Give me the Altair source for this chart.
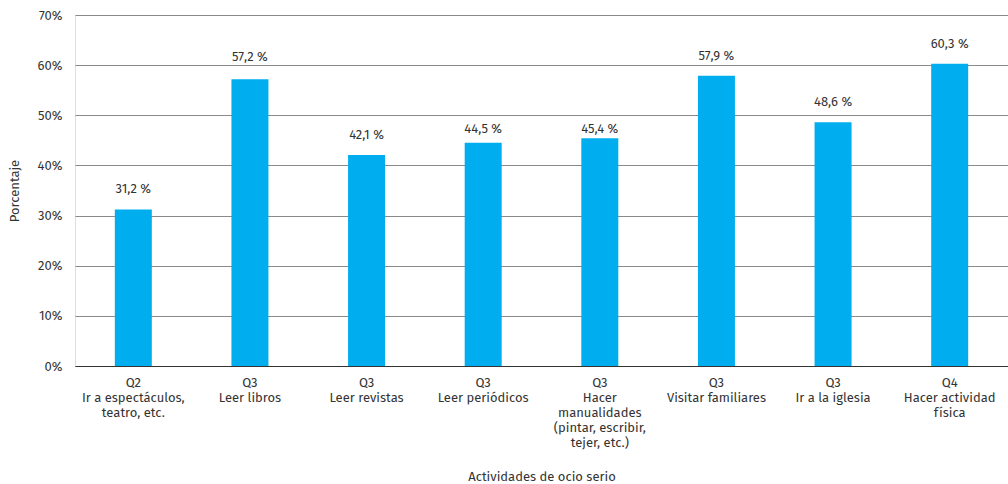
import altair as alt
import pandas as pd

# Categories (line breaks marked with "|") and percentages per activity
categorias = [
    "Q2|Ir a espectáculos,|teatro, etc.",
    "Q3|Leer libros",
    "Q3|Leer revistas",
    "Q3|Leer periódicos",
    "Q3|Hacer|manualidades|(pintar, escribir,|tejer, etc.)",
    "Q3|Visitar familiares",
    "Q3|Ir a la iglesia",
    "Q4|Hacer actividad|física",
]
porcentajes = [31.2, 57.2, 42.1, 44.5, 45.4, 57.9, 48.6, 60.3]

df = pd.DataFrame({"cat": categorias, "valor": porcentajes})

FONT = "Fira Sans, Noto Sans, sans-serif"
TEXT = "#333333"
BAR = "#00AEEF"
FS = 13

x = alt.X(
    "cat:N",
    sort=categorias,
    title="Actividades de ocio serio",
    axis=alt.Axis(
        labelExpr="split(datum.label, '|')",
        labelAngle=0,
        labelAlign="center",
        labelBaseline="top",
        labelPadding=10,
        labelLineHeight=15,
        labelFontSize=FS,
        labelColor=TEXT,
        labelFont=FONT,
        ticks=False,
        domain=True,
        domainColor="#333333",
        domainWidth=1.2,
        grid=False,
        titleFont=FONT,
        titleFontSize=FS,
        titleFontWeight="normal",
        titleColor=TEXT,
        titleY=110,
        titleBaseline="middle",
    ),
    scale=alt.Scale(paddingInner=0, paddingOuter=0),
)

y = alt.Y(
    "valor:Q",
    title="Porcentaje",
    scale=alt.Scale(domain=[0, 70]),
    axis=alt.Axis(
        values=[0, 10, 20, 30, 40, 50, 60, 70],
        labelExpr="datum.value + '%'",
        labelFontSize=FS,
        labelColor=TEXT,
        labelFont=FONT,
        labelPadding=13,
        ticks=False,
        domain=False,
        grid=True,
        gridColor="#8a8a8a",
        gridWidth=1.2,
        titleFont=FONT,
        titleFontSize=FS,
        titleFontWeight="normal",
        titleColor=TEXT,
        titleX=-61,
        titleY=175.5,
        titleAngle=-90,
        titleBaseline="middle",
        titleAlign="center",
    ),
)

base = alt.Chart(df)

bars = base.mark_bar(color=BAR, size=37).encode(x=x, y=y)

# Value labels sit a little above each bar; when one would cross a gridline,
# it is tucked just under that line (or lifted just over it).
labels = (
    base.transform_calculate(
        etiqueta="replace(format(datum.valor, '.1f'), '.', ',') + ' %'",
        pos0="datum.valor + 4",
        g="ceil(datum.valor / 10) * 10",
    )
    .transform_calculate(
        choca="datum.pos0 + 1.3 > datum.g - 0.3 && datum.pos0 - 1.3 < datum.g + 0.3"
    )
    .transform_calculate(
        lab="datum.choca ? (datum.g - 4 > datum.valor + 0.5 ? datum.g - 2.7 : datum.g + 1.6) : datum.pos0"
    )
    .mark_text(fontSize=FS, font=FONT, color=TEXT, baseline="middle")
    .encode(
        x=alt.X("cat:N", sort=categorias),
        y=alt.Y("lab:Q"),
        text="etiqueta:N",
    )
)

chart = (
    alt.layer(bars, labels)
    .properties(
        width=933,
        height=351,
        autosize=alt.AutoSizeParams(type="none"),
        padding={"left": 75, "top": 15, "right": 0, "bottom": 118},
    )
    .configure_view(stroke=None)
    .configure(background="white")
)

chart.save("out.html", embed_options={"renderer": "svg", "actions": False})
